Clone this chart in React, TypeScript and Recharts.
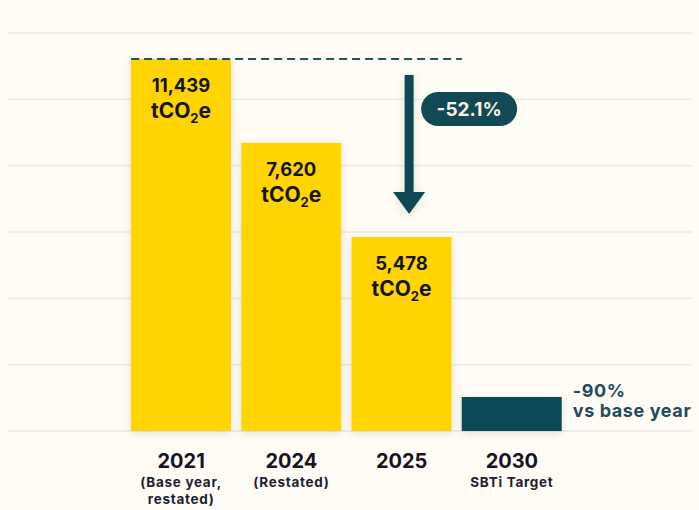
import React from 'react';
import { BarChart, Bar, XAxis, YAxis, CartesianGrid, Cell, LabelList, ReferenceLine } from 'recharts';

const categories = ['2021', '2024', '2025', '2030'];
const subLabels: string[][] = [['(Base year,', 'restated)'], ['(Restated)'], [], ['SBTi Target']];
const emissions: (number | null)[] = [11439, 7620, 5478, null];
// bar heights as drawn in the picture (the original is not to scale)
const barHeights = [11216, 8683, 5849, 1025];
const yTicks = [0, 2000, 4000, 6000, 8000, 10000, 12000];
const targetLines = ['-90%', 'vs base year'];
const reductionLabel = '-52.1%';
const arrowFrom = 10734;
const arrowTo = 6543;

const YELLOW = '#FFD400';
const TEAL = '#114A55';
const FONT = 'Inter, "Open Sans", sans-serif';
const BAR_SIZE = 100;

const data = categories.map((c, i) => ({
  year: c,
  height: barHeights[i],
  emissions: emissions[i],
}));

const YearTick = (props: any) => {
  const { x, y, payload, index } = props;
  const idx = typeof index === 'number' ? index : categories.indexOf(payload.value);
  const subs = subLabels[idx] || [];
  return (
    <g>
      <text x={x} y={y + 37} textAnchor="middle" fontFamily={FONT} fontWeight={700} fontSize={20} fill="#15151F">
        {payload.value}
      </text>
      {subs.map((s, k) => (
        <text key={k} x={x} y={y + 56 + k * 17} textAnchor="middle" fontFamily={FONT} fontWeight={700}
          fontSize={13.5} letterSpacing={0.7} fill="#1E1E33">
          {s}
        </text>
      ))}
    </g>
  );
};

const BarLabel = (props: any) => {
  const { x, y, width, value, index } = props;
  const cx = x + width / 2;
  if (index === 3 || value == null) {
    return (
      <g>
        {targetLines.map((t, k) => (
          <text key={k} x={x + width + 11} y={y + k * 20} fontFamily={FONT} fontWeight={700} fontSize={18}
            letterSpacing={0.6} fill="#1F4B5A">
            {t}
          </text>
        ))}
      </g>
    );
  }
  return (
    <g>
      <text x={cx} y={y + 33} textAnchor="middle" fontFamily={FONT} fontWeight={700} fontSize={18.5} fill="#141414">
        {Number(value).toLocaleString('en-US')}
      </text>
      <text x={cx} y={y + 59} textAnchor="middle" fontFamily={FONT} fontWeight={700} fontSize={21} fill="#141414">
        <tspan>tCO</tspan>
        <tspan dy={5} fontSize={13}>2</tspan>
        <tspan dy={-5}>e</tspan>
      </text>
    </g>
  );
};

const DashedShape = (props: any) => {
  const { x1, x2, y1 } = props;
  return (
    <line x1={x1 - BAR_SIZE / 2} x2={x2 - BAR_SIZE / 2} y1={y1} y2={y1} stroke="#1E5560" strokeWidth={2} strokeDasharray="8 5" />
  );
};

const ArrowShape = (props: any) => {
  const { x1, y1, y2 } = props;
  const cx = x1 + 7.5;
  const top = Math.min(y1, y2);
  const tip = Math.max(y1, y2);
  const headH = 22;
  const pillW = 96;
  const pillH = 34;
  const pillX = cx + 12;
  const pillCy = top + 34;
  return (
    <g>
      <g filter="url(#softShadow)">
        <rect x={cx - 4.5} y={top} width={9} height={tip - top - headH + 1} fill={TEAL} />
        <polygon points={`${cx - 16},${tip - headH} ${cx + 16},${tip - headH} ${cx},${tip}`} fill={TEAL} />
      </g>
      <rect x={pillX} y={pillCy - pillH / 2} width={pillW} height={pillH} rx={pillH / 2} fill={TEAL} />
      <text x={pillX + pillW / 2} y={pillCy + 7} textAnchor="middle" fontFamily={FONT} fontWeight={700} fontSize={19} fill="#F6F2E6">
        {reductionLabel}
      </text>
    </g>
  );
};

export default function App() {
  return (
    <div style={{ position: 'absolute', left: 0, top: 0, width: 699, height: 510, background: '#FEFCF5', overflow: 'hidden' }}>
      <svg width={0} height={0} style={{ position: 'absolute' }}>
        <defs>
          <filter id="softShadow" x="-30%" y="-30%" width="160%" height="160%">
            <feDropShadow dx={0} dy={2} stdDeviation={4} floodColor="#000" floodOpacity={0.12} />
          </filter>
        </defs>
      </svg>
      <BarChart width={699} height={510} data={data} margin={{ top: 33, right: 7, bottom: 0, left: 8 }}>
        <CartesianGrid vertical={false} stroke="#EAE9E5" strokeWidth={1.6} />
        <YAxis hide domain={[0, 12000]} ticks={yTicks} />
        <XAxis
          dataKey="year"
          height={79}
          axisLine={false}
          tickLine={false}
          tickSize={0}
          tickMargin={0}
          interval={0}
          padding={{ left: 118, right: 125 }}
          tick={<YearTick />}
        />
        <Bar dataKey="height" barSize={BAR_SIZE} isAnimationActive={false} filter="url(#softShadow)">
          {data.map((d, i) => (
            <Cell key={i} fill={i === 3 ? TEAL : YELLOW} />
          ))}
          <LabelList dataKey="emissions" content={<BarLabel />} />
        </Bar>
        <ReferenceLine
          segment={[{ x: categories[0], y: barHeights[0] }, { x: categories[3], y: barHeights[0] }]}
          shape={<DashedShape />}
        />
        <ReferenceLine
          segment={[{ x: categories[2], y: arrowFrom }, { x: categories[2], y: arrowTo }]}
          shape={<ArrowShape />}
        />
      </BarChart>
    </div>
  );
}
